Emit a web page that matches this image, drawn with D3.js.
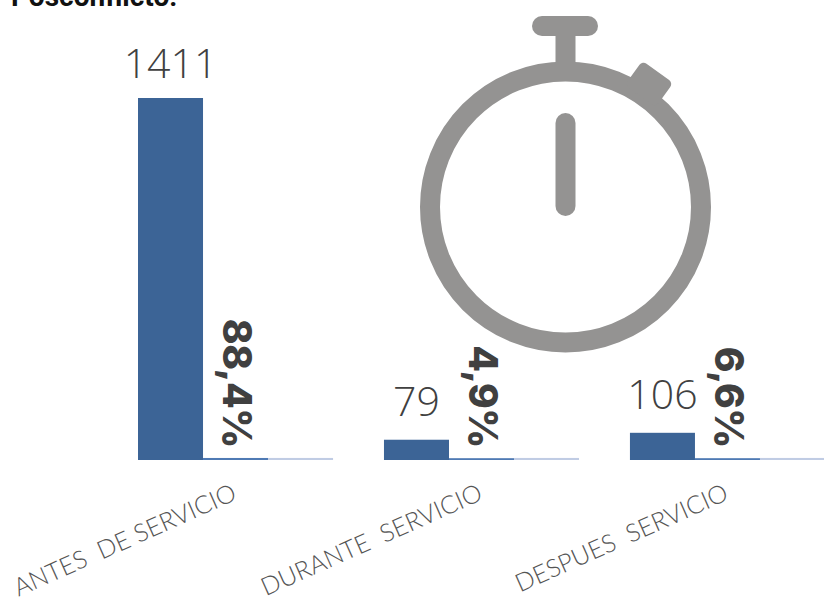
<!DOCTYPE html>
<html>
<head>
<meta charset="utf-8">
<script src="https://cdn.jsdelivr.net/npm/d3@7"></script>
<style>
  html, body { margin: 0; padding: 0; background: #fff; }
  svg { display: block; }
</style>
</head>
<body>
<svg id="chart"></svg>
<script>
// data
const categories = ['ANTES  DE SERVICIO', 'DURANTE  SERVICIO', 'DESPUES  SERVICIO'];
const counts = [1411, 79, 106];
const shares = [0.884, 0.049, 0.066];
const totals = [1, 1, 1];
const shareLabels = ['88,4%', '4,9%', '6,6%'];
const seriesNames = ['counts', 'shares', 'totals'];

const width = 824;
const height = 601;
const baseline = 460;

const svg = d3.select('#chart').attr('width', width).attr('height', height);

const x = d3.scaleBand()
  .domain(categories)
  .range([138, 825])
  .paddingInner(0.207)
  .paddingOuter(0);

const xInner = d3.scaleBand()
  .domain(seriesNames)
  .range([0, x.bandwidth()]);

const y = d3.scaleLinear()
  .domain([0, 1411])
  .range([baseline, 98]);

// title, cut off by the top edge
svg.append('text')
  .attr('x', 11)
  .attr('y', 6)
  .style('font-family', 'Roboto')
  .style('font-weight', 700)
  .style('font-size', '28px')
  .attr('fill', '#111')
  .text('Posconflicto:');

// stopwatch
const watch = svg.append('g').attr('fill', '#949392');
watch.append('circle')
  .attr('cx', 565.5).attr('cy', 207).attr('r', 135.5)
  .attr('fill', 'none').attr('stroke', '#949392').attr('stroke-width', 20);
watch.append('rect').attr('x', 532).attr('y', 16).attr('width', 66).attr('height', 20).attr('rx', 10);
watch.append('rect').attr('x', 555.5).attr('y', 30).attr('width', 20).attr('height', 36);
watch.append('rect').attr('x', 555.5).attr('y', 113).attr('width', 20).attr('height', 103).attr('rx', 10);
watch.append('rect')
  .attr('x', -19).attr('y', -15).attr('width', 38).attr('height', 30).attr('rx', 5)
  .attr('transform', 'translate(649,84) rotate(36)');

// bars, the two small series get a thin minimum height so they show
const seriesValues = { counts, shares, totals };
const seriesColors = { counts: '#3c6496', shares: '#4f7ab4', totals: '#c0cce4' };

seriesNames.forEach(name => {
  svg.append('g')
    .selectAll('rect')
    .data(seriesValues[name])
    .enter()
    .append('rect')
    .attr('x', (d, i) => x(categories[i]) + xInner(name))
    .attr('width', xInner.bandwidth())
    .attr('y', d => y(d) - (name === 'counts' ? 0 : 1.8))
    .attr('height', d => baseline - y(d) + (name === 'counts' ? 0 : 1.8))
    .attr('fill', seriesColors[name]);
});

// count labels
svg.append('g')
  .selectAll('text')
  .data(counts)
  .enter()
  .append('text')
  .attr('x', (d, i) => x(categories[i]) + xInner('counts') + xInner.bandwidth() / 2)
  .attr('y', (d, i) => y(d) - (i === 0 ? 20 : 23.5))
  .attr('text-anchor', 'middle')
  .style('font-family', 'Open Sans')
  .style('font-weight', 300)
  .style('font-size', '41px')
  .attr('fill', '#404040')
  .text(d => d);

// share labels, turned to read downwards
svg.append('g')
  .selectAll('text')
  .data(shareLabels)
  .enter()
  .append('text')
  .attr('transform', (d, i) => `translate(${x(categories[i]) + xInner('shares') + 20},448) rotate(90)`)
  .attr('text-anchor', 'end')
  .style('font-family', 'Inter')
  .style('font-weight', 800)
  .style('font-size', '39px')
  .style('letter-spacing', '-0.5px')
  .attr('fill', '#404040')
  .text(d => d);

// category labels
svg.append('g')
  .selectAll('text')
  .data(categories)
  .enter()
  .append('text')
  .attr('transform', (d, i) => `translate(${x(categories[i]) + 100},499) rotate(-24)`)
  .attr('text-anchor', 'end')
  .style('font-family', 'Lato')
  .style('font-weight', 300)
  .style('font-size', '25px')
  .style('white-space', 'pre')
  .attr('fill', '#555')
  .text(d => d);
</script>
</body>
</html>
